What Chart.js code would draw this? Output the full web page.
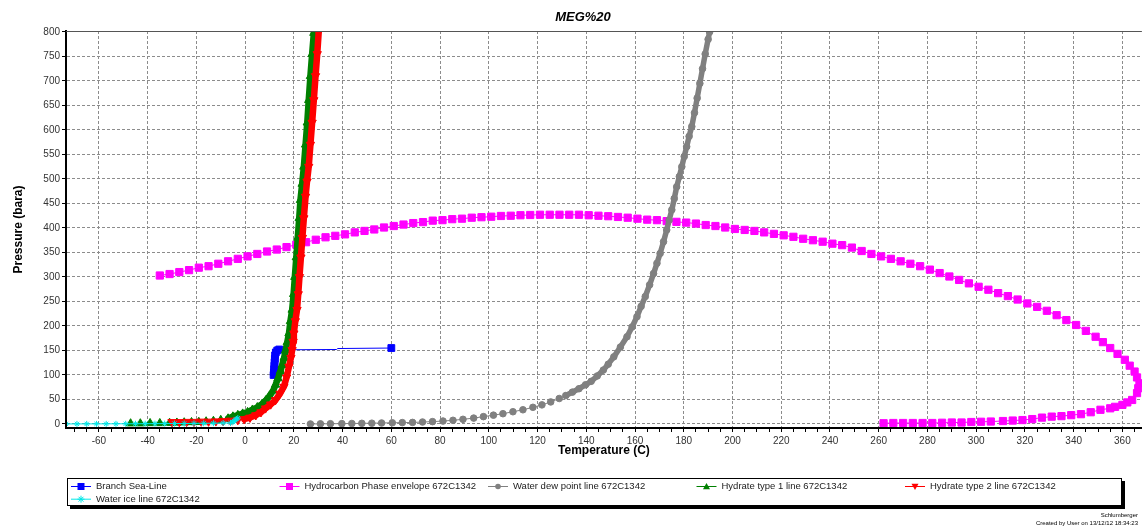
<!DOCTYPE html>
<html>
<head>
<meta charset="utf-8">
<title>MEG%20</title>
<script src="https://cdn.jsdelivr.net/npm/chart.js@4.4.1/dist/chart.umd.min.js"></script>
<style>
    html, body { margin: 0; padding: 0; background: #ffffff; }
    canvas { display: block; }
</style>
</head>
<body>
<canvas id="myChart" width="1148" height="532"></canvas>
<script>
// подключение канваса
const canvas = document.getElementById('myChart')
const ctx = canvas.getContext('2d')

// подписи делений
const xTickLabels = [-60, -40, -20, 0, 20, 40, 60, 80, 100, 120, 140, 160, 180, 200, 220, 240, 260, 280, 300, 320, 340, 360]
const yTickLabels = [0, 50, 100, 150, 200, 250, 300, 350, 400, 450, 500, 550, 600, 650, 700, 750, 800]

// названия серий
const seriesNames = [
    'Branch Sea-Line',
    'Hydrocarbon Phase envelope 672C1342',
    'Water dew point line 672C1342',
    'Hydrate type 1 line 672C1342',
    'Hydrate type 2 line 672C1342',
    'Water ice line 672C1342'
]

// Branch Sea-Line
const seaT = [60, 38, 37.5, 20, 14, 13.2, 12.6, 12.3, 12.2, 12.1, 12, 11.9, 11.8, 11.7]
const seaP = [155, 154, 152, 151.5, 152, 150, 146, 140, 133, 126, 119, 112, 105, 100]

// Hydrocarbon Phase envelope
const envT = [
    -35, -31, -27, -23, -19, -15, -11, -7, -3,
    1, 5, 9, 13, 17, 21, 25, 29, 33, 37,
    41, 45, 49, 53, 57, 61, 65, 69, 73, 77,
    81, 85, 89, 93, 97, 101, 105, 109, 113, 117,
    121, 125, 129, 133, 137, 141, 145, 149, 153, 157,
    161, 165, 169, 173, 177, 181, 185, 189, 193, 197,
    201, 205, 209, 213, 217, 221, 225, 229, 233, 237,
    241, 245, 249, 253, 257, 261, 265, 269, 273, 277,
    281, 285, 289, 293, 297, 301, 305, 309, 313, 317,
    321, 325, 329, 333, 337, 341, 345, 349, 352, 355,
    358, 361, 363, 365, 366, 367, 366.5, 366, 364, 362,
    360, 357, 355, 351, 347, 343, 339, 335, 331, 327,
    323, 319, 315, 311, 306, 302, 298, 294, 290, 286,
    282, 278, 274, 270, 266, 262
]
const envP = [
    303, 306, 310, 314, 319, 322, 327, 332, 337,
    342, 347, 352, 356, 361, 366, 371, 376, 381, 384,
    387, 391, 394, 397, 401, 404, 407, 410, 412, 415,
    416, 418, 419, 421, 422, 423, 424.5, 425, 426, 426.5,
    427, 427, 427, 427, 427, 426, 425, 424, 422.5, 421,
    419, 417, 416, 414, 412.5, 411, 409, 406, 404, 401,
    398, 396, 394, 391, 388, 385, 382, 378, 375, 372,
    368, 365, 360, 353, 347, 342, 337, 332, 327, 322,
    315, 308, 301, 294, 287, 280, 274, 267, 261, 254,
    246, 239, 231, 222, 212, 202, 190, 178, 167, 155,
    143, 131, 119, 107, 95, 83, 73, 63, 49, 44,
    39, 35, 32, 29, 24, 20, 18, 16, 15, 13,
    10, 8, 7, 6, 5, 4.5, 4, 3, 3, 2.5,
    2, 2, 2, 2, 2, 1.5
]

// Water dew point line
const dewT = [
    26.8, 30.9, 35, 39.7, 43.8, 47.9, 52, 56, 60.4, 64.5,
    68.7, 72.8, 76.9, 81.2, 85.3, 89.4, 93.8, 97.8, 101.9, 105.8,
    109.9, 114, 118.1, 121.8, 125.4, 128.9, 131.6, 134.3, 137, 139.7,
    142, 144.5, 147, 149, 151.3, 154, 156.7, 158.8, 160.8, 162.5,
    164.2, 166, 167.6, 169, 170.3, 171.7, 173, 174, 175.1, 176.1,
    177.1, 178.2, 179.2, 180.2, 181.2, 182.2, 183.3, 184.4, 185.5, 186.6,
    187.7, 188.8, 190, 190.6
]
const dewP = [
    0, 0.3, 0.5, 0.7, 1, 1.3, 1.6, 2, 2.5, 2.8,
    3.2, 4, 4.8, 6, 7.5, 9.5, 12, 15, 18, 21,
    25, 29, 34, 39, 45, 52, 58, 65, 72, 80,
    87, 98, 110, 122, 137, 157, 178, 198, 219, 240,
    260, 284, 307, 328, 348, 372, 396, 416, 437, 460,
    484, 505, 525, 546, 566, 587, 607, 635, 665, 695,
    725, 755, 785, 800
]

// Hydrate type 1 line
const hyd1T = [
    -47, -43, -39, -35, -31, -28, -25, -22, -19, -16,
    -13, -10, -7, -5, -3, -1, 1, 3, 5, 7,
    8.5, 10, 11.5, 12.5, 13.5, 14.5, 15.2, 16, 16.6, 17.3,
    18, 18.6, 19.3, 19.9, 20.4, 21, 21.6, 22.2, 22.7, 23.4,
    24.1, 24.8, 25.5, 26.1, 26.8, 27.5, 28.2
]
const hyd1P = [
    1, 1, 1.5, 1.5, 2, 2.5, 3, 3.5, 4, 5,
    6, 8, 11, 15, 18, 21, 24, 29, 34, 41,
    48, 57, 68, 80, 93, 108, 120, 135, 150, 167,
    185, 210, 233, 265, 300, 340, 380, 420, 457, 490,
    525, 570, 615, 661, 710, 755, 798
]

// Hydrate type 2 line
const hyd2T = [
    -30, -27, -24, -21, -18, -15, -12, -9, -6, -3,
    -0.4, 2, 4.4, 6.5, 8.4, 10.5, 12.5, 14.3, 15.9, 17,
    18, 18.8, 19.3, 19.7, 20, 20.6, 21.3, 21.8, 22.3, 22.9,
    23.5, 24.1, 24.8, 25.4, 26.1, 26.8, 27.5, 28.2, 28.9, 29.6,
    30.2
]
const hyd2P = [
    4, 4, 4.5, 4.5, 5, 5, 5.5, 6, 7, 8,
    10, 13, 18, 24, 32, 40, 49, 62, 76, 95,
    117, 135, 151, 168, 185, 210, 233, 265, 300, 340,
    380, 420, 464, 495, 525, 570, 615, 661, 710, 755,
    800
]

// Water ice line
const iceT = [-73.5, -69, -65, -61, -57, -53, -49, -45, -41, -37, -33, -29, -25, -21, -17, -13, -9, -6, -5, -4.5, -4, -3.5, -3]
const iceP = [0.1, 0.15, 0.2, 0.25, 0.3, 0.35, 0.4, 0.5, 0.6, 0.7, 0.8, 0.9, 1, 1.2, 1.4, 1.6, 1.9, 2.2, 4, 6, 8, 10, 12]

// склейка массивов в точки
function toPoints(xs, ys) {
    return xs.map((x, i) => ({ x: x, y: ys[i] }))
}

const font = 'Liberation Sans, Arial, sans-serif'
Chart.defaults.font.family = font
Chart.defaults.color = '#333'

// значок серии в легенде
function drawMark(c, style, x, y, r, color) {
    c.fillStyle = color
    c.strokeStyle = color
    c.lineWidth = 1
    c.beginPath()
    if (style === 'rect') {
        c.rect(x - r, y - r, 2 * r, 2 * r)
        c.fill()
    } else if (style === 'circle') {
        c.arc(x, y, r * 0.8, 0, Math.PI * 2)
        c.fill()
    } else if (style === 'up') {
        c.moveTo(x, y - r)
        c.lineTo(x + r, y + r * 0.8)
        c.lineTo(x - r, y + r * 0.8)
        c.closePath()
        c.fill()
    } else if (style === 'down') {
        c.moveTo(x, y + r)
        c.lineTo(x + r, y - r * 0.8)
        c.lineTo(x - r, y - r * 0.8)
        c.closePath()
        c.fill()
    } else {
        c.moveTo(x - r, y)
        c.lineTo(x + r, y)
        c.moveTo(x, y - r)
        c.lineTo(x, y + r)
        c.moveTo(x - r * 0.7, y - r * 0.7)
        c.lineTo(x + r * 0.7, y + r * 0.7)
        c.moveTo(x + r * 0.7, y - r * 0.7)
        c.lineTo(x - r * 0.7, y + r * 0.7)
        c.stroke()
    }
}

const legendMarks = ['rect', 'rect', 'circle', 'up', 'down', 'star']

// заголовок, рамка сверху, легенда и подпись
const decor = {
    id: 'decor',
    afterDraw(chart) {
        const c = chart.ctx
        const area = chart.chartArea
        c.save()

        c.strokeStyle = '#555'
        c.lineWidth = 1
        c.beginPath()
        c.moveTo(area.left, area.top + 0.5)
        c.lineTo(area.right, area.top + 0.5)
        c.stroke()

        c.fillStyle = '#000'
        c.font = 'italic bold 13px ' + font
        c.textAlign = 'center'
        c.textBaseline = 'middle'
        c.fillText('MEG%20', 583, 17)

        // рамка легенды с тенью
        c.fillStyle = '#000'
        c.fillRect(70, 481, 1055, 28)
        c.fillStyle = '#fff'
        c.fillRect(67, 478, 1055, 28)
        c.strokeStyle = '#000'
        c.strokeRect(67.5, 478.5, 1054, 27)

        chart.data.datasets.forEach((ds, i) => {
            const x = 71 + (i % 5) * 208.5
            const y = 486 + Math.floor(i / 5) * 12.7
            c.strokeStyle = ds.borderColor
            c.lineWidth = 1
            c.beginPath()
            c.moveTo(x, y + 0.5)
            c.lineTo(x + 20, y + 0.5)
            c.stroke()
            drawMark(c, legendMarks[i], x + 10, y + 0.5, 3.5, ds.borderColor)
            c.fillStyle = '#222'
            c.font = '9.5px ' + font
            c.textAlign = 'left'
            c.textBaseline = 'middle'
            c.fillText(ds.label, x + 25, y + 0.5)
        })

        c.fillStyle = '#000'
        c.font = '6px ' + font
        c.textAlign = 'right'
        c.fillText('Schlumberger', 1138, 515)
        c.fillText('Created by User on 13/12/12 18:34:23', 1138, 523)
        c.restore()
    }
}

// толщина линии на плотных участках
const thick = (limit, w) => (sc => sc.p1.parsed.y > limit ? w : 1)

const data = {
    datasets: [
        {
            label: seriesNames[0],
            data: toPoints(seaT, seaP),
            borderColor: '#0000ff',
            backgroundColor: '#0000ff',
            borderWidth: 1,
            pointStyle: 'rect',
            pointRadius: seaT.map((t, i) => (i > 0 && i < 4) ? 0 : 4.8),
            order: 6
        },
        {
            label: seriesNames[1],
            data: toPoints(envT, envP),
            borderColor: '#ff00ff',
            backgroundColor: '#ff00ff',
            borderWidth: 1,
            pointStyle: 'rect',
            pointRadius: 5.1,
            order: 5
        },
        {
            label: seriesNames[2],
            data: toPoints(dewT, dewP),
            borderColor: '#808080',
            backgroundColor: '#808080',
            borderWidth: 1,
            segment: { borderWidth: thick(60, 5.5) },
            pointStyle: 'circle',
            pointRadius: 3.3,
            order: 4
        },
        {
            label: seriesNames[3],
            data: toPoints(hyd1T, hyd1P),
            borderColor: '#008000',
            backgroundColor: '#008000',
            borderWidth: 1,
            segment: { borderWidth: thick(12, 6.5) },
            pointStyle: 'triangle',
            pointRadius: 4.8,
            order: 3
        },
        {
            label: seriesNames[4],
            data: toPoints(hyd2T, hyd2P),
            borderColor: '#ff0000',
            backgroundColor: '#ff0000',
            borderWidth: 1,
            segment: { borderWidth: thick(12, 6.5) },
            pointStyle: 'triangle',
            rotation: 180,
            pointRadius: 4.8,
            order: 2
        },
        {
            label: seriesNames[5],
            data: toPoints(iceT, iceP),
            borderColor: '#00e8e8',
            backgroundColor: '#00e8e8',
            borderWidth: 1,
            pointStyle: 'star',
            pointRadius: 3,
            order: 1
        }
    ]
}

data.datasets.forEach(ds => {
    ds.showLine = true
    ds.clip = 0
    ds.borderJoinStyle = 'round'
    ds.borderCapStyle = 'round'
    ds.pointBorderWidth = 1
    ds.pointBorderColor = ds.borderColor
})

// создание графика
const myChart = new Chart(ctx, {
    type: 'scatter',
    data: data,
    options: {
        responsive: false,
        animation: false,
        events: [],
        layout: { padding: { top: 31, right: 0, bottom: 72, left: 0 } },
        plugins: {
            legend: { display: false },
            tooltip: { enabled: false },
            title: { display: false }
        },
        scales: {
            x: {
                type: 'linear',
                min: -73.5,
                max: 368,
                afterBuildTicks: s => {
                    const t = []
                    for (let v = -70; v <= 365; v += 5) t.push({ value: v })
                    s.ticks = t
                },
                afterFit: s => { s.height = 32 },
                ticks: {
                    autoSkip: false,
                    maxRotation: 0,
                    padding: 3,
                    font: { size: 10 },
                    color: '#333',
                    callback: v => xTickLabels.includes(v) ? v : ''
                },
                grid: {
                    color: c => (c.tick && c.tick.value % 20 === 0) ? '#8c8c8c' : 'rgba(0,0,0,0)',
                    lineWidth: 1,
                    tickColor: '#000',
                    tickLength: 4
                },
                border: { color: '#000', width: 2, dash: [3, 2], z: 1 },
                title: {
                    display: true,
                    text: 'Temperature (C)',
                    color: '#000',
                    font: { size: 12, weight: 'bold' },
                    padding: { top: 0, bottom: 2 }
                }
            },
            y: {
                type: 'linear',
                min: -8.2,
                max: 802,
                afterBuildTicks: s => { s.ticks = yTickLabels.map(v => ({ value: v })) },
                afterFit: s => { s.width = 66 },
                ticks: {
                    autoSkip: false,
                    padding: 2,
                    font: { size: 10 },
                    color: '#333'
                },
                grid: {
                    color: '#8c8c8c',
                    lineWidth: 1,
                    tickColor: '#000',
                    tickLength: 4
                },
                border: { color: '#000', width: 2, dash: [3, 2], z: 1 },
                title: {
                    display: true,
                    text: 'Pressure (bara)',
                    color: '#000',
                    font: { size: 12, weight: 'bold' },
                    padding: { top: 11, bottom: 0 }
                }
            }
        }
    },
    plugins: [decor]
})
</script>
</body>
</html>
